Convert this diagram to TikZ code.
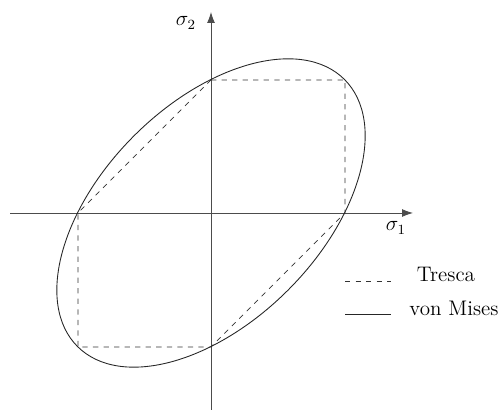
\documentclass[tikz,border=0pt]{standalone}
\usetikzlibrary{arrows.meta}

\begin{document}
\begin{tikzpicture}[
    x=0.02cm, y=0.02cm,
    >={Latex[length=2.2mm, width=1.6mm]},
    axis/.style = {draw=black!70, line width=0.5pt, ->},
    tresca/.style = {draw=black!80, dashed, line width=0.4pt},
    mises/.style = {draw=black!85, line width=0.5pt},
    every node/.style={font=\large}
]
\useasboundingbox (0,0) rectangle (498,412);

% Define coordinates
\coordinate (O)     at (211,199);
\coordinate (xmin)  at ( 10,199);
\coordinate (xmax)  at (413,199);
\coordinate (ymin)  at (211,  2);
\coordinate (ymax)  at (211,400);

\coordinate (pA) at (211,332);
\coordinate (pB) at (345,332);
\coordinate (pC) at (345,199);
\coordinate (pD) at (211, 65);
\coordinate (pE) at ( 78, 65);
\coordinate (pF) at ( 78,199);

\node (s1) at (396,184) {$\sigma_1$};
\node (s2) at (186,389) {$\sigma_2$};

% Legend
\coordinate (legTa) at (345,131);
\coordinate (legTb) at (391,131);
\coordinate (legMa) at (345, 98);
\coordinate (legMb) at (391, 98);
\node (lblT) at (446,138) {Tresca};
\node (lblM) at (454,104) {von Mises};

% Axes
\draw[axis] (xmin) -- (xmax);
\draw[axis] (ymin) -- (ymax);

% Tresca hexagon
\draw[tresca] (pA) -- (pB) -- (pC) -- (pD) -- (pE) -- (pF) -- cycle;

% von Mises ellipse
\draw[mises] (O) ellipse[x radius=188.8, y radius=109, rotate=45];

\draw[tresca] (legTa) -- (legTb);
\draw[mises] (legMa) -- (legMb);

\end{tikzpicture}
\end{document}
